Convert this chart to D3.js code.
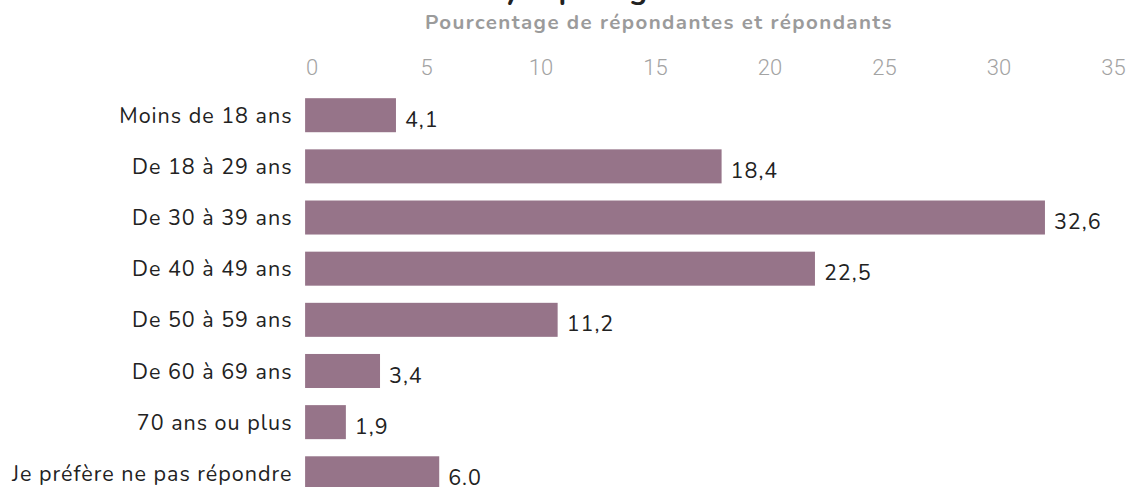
<!DOCTYPE html>
<html>
<head>
<meta charset="utf-8">
<script src="https://cdn.jsdelivr.net/npm/d3@7"></script>
<style>
  html, body { margin:0; padding:0; background:#fff; }
  svg { display:block; font-family: Nunito, Lato, "Open Sans", sans-serif; }
</style>
</head>
<body>
<svg id="chart" width="1132" height="487"></svg>
<script>
// données
var categories = ["Moins de 18 ans","De 18 à 29 ans","De 30 à 39 ans","De 40 à 49 ans",
                  "De 50 à 59 ans","De 60 à 69 ans","70 ans ou plus","Je préfère ne pas répondre"];
var valeurs = [4.1, 18.4, 32.6, 22.5, 11.2, 3.4, 1.9, 6.0];
var etiquettes = ["4,1","18,4","32,6","22,5","11,2","3,4","1,9","6.0"];
var ticks = [0,5,10,15,20,25,30,35];
var titre = "Analyse par âge";
var titreAxe = "Pourcentage de répondantes et répondants";

var couleur = "#967489";

var svg = d3.select("#chart");

// échelles
var x = d3.scaleLinear().domain([0,35]).range([302.6, 1099.6]);
var xAxe = d3.scaleLinear().domain([0,35]).range([311.5, 1113]);
var y = d3.scaleBand().domain(categories).range([89.5, 499]).paddingInner(0.335).paddingOuter(0.17);

// titre (coupé en haut)
svg.append("text")
  .attr("x", 551).attr("y", -1)
  .attr("text-anchor","middle")
  .attr("font-size", 30).attr("font-weight", 700)
  .attr("fill","#222")
  .text(titre);

svg.append("text")
  .attr("x", 659).attr("y", 29)
  .attr("text-anchor","middle")
  .attr("font-size", 20.5).attr("font-weight", 700)
  .attr("letter-spacing", 1.4)
  .attr("fill","#9b9b9b")
  .text(titreAxe);

// axe du haut
var axe = svg.append("g")
  .attr("transform","translate(0,75)")
  .call(d3.axisTop(xAxe).tickValues(ticks).tickSize(0).tickPadding(0));
axe.select(".domain").remove();
axe.selectAll("text")
  .attr("font-family","Roboto, sans-serif")
  .attr("font-weight",300)
  .attr("font-size",22)
  .attr("fill","#a3a3a3");

// barres
svg.selectAll(".barre")
  .data(valeurs)
  .enter().append("rect")
  .attr("class","barre")
  .attr("x", x(0)+2.5)
  .attr("y", function(d,i){ return y(categories[i]); })
  .attr("width", function(d){ return x(d)-x(0)-2.5; })
  .attr("height", y.bandwidth())
  .attr("fill", couleur);

// étiquettes catégories
svg.selectAll(".cat")
  .data(categories)
  .enter().append("text")
  .attr("class","cat")
  .attr("x", 292.5)
  .attr("y", function(d){ return y(d)+y.bandwidth()/2; })
  .attr("dy","0.35em")
  .attr("text-anchor","end")
  .attr("font-size",21.5)
  .attr("letter-spacing",1)
  .attr("fill","#222")
  .text(function(d){ return d; });

// valeurs
svg.selectAll(".val")
  .data(valeurs)
  .enter().append("text")
  .attr("class","val")
  .attr("x", function(d){ return x(d)+9; })
  .attr("y", function(d,i){ return y(categories[i])+y.bandwidth()/2+4; })
  .attr("dy","0.35em")
  .attr("font-size",21.5)
  .attr("letter-spacing",1)
  .attr("fill","#222")
  .text(function(d,i){ return etiquettes[i]; });
</script>
</body>
</html>
